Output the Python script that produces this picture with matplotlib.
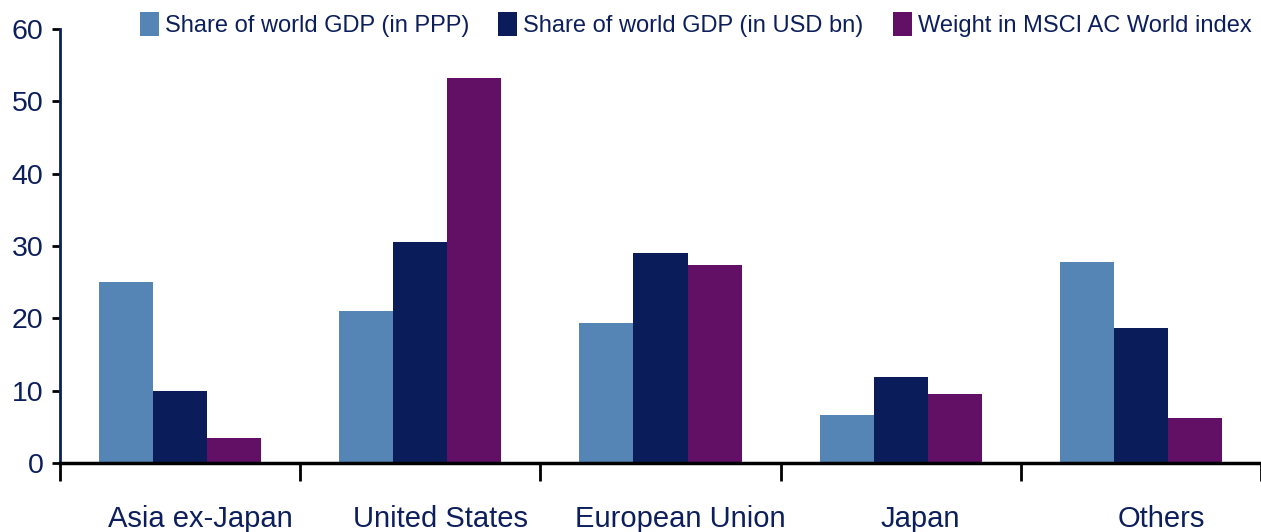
import numpy as np
import matplotlib.pyplot as plt
import matplotlib.transforms as mtransforms

plt.rcParams['font.family'] = ['Liberation Sans', 'DejaVu Sans']

categories = ['Asia ex-Japan', 'United States', 'European Union', 'Japan', 'Others']
gdp_ppp = [25.0, 21.0, 19.4, 6.6, 27.8]
gdp_usd = [9.9, 30.6, 29.0, 11.9, 18.7]
msci_weight = [3.5, 53.2, 27.4, 9.6, 6.2]
series_names = ['Share of world GDP (in PPP)', 'Share of world GDP (in USD bn)',
                'Weight in MSCI AC World index']
colors = ['#5585B5', '#0A1D5A', '#611066']
text_color = '#0C1F5C'

fig = plt.figure(figsize=(12.61, 5.32), dpi=100)
ax = fig.add_axes([0.0476, 0.1297, 0.9524, 0.8158])

x = np.arange(len(categories))
w = 0.225
for i, (vals, name, c) in enumerate(zip([gdp_ppp, gdp_usd, msci_weight], series_names, colors)):
    ax.bar(x + (i - 1) * w, vals, width=w, color=c, label=name)

ax.set_xlim(-0.5, len(categories) - 0.5)
ax.set_ylim(0, 60)
ax.set_yticks(range(0, 61, 10))
ax.tick_params(axis='y', labelsize=20.5, labelcolor=text_color, length=6, width=2, color='black', pad=6)

ax.set_xticks(np.arange(-0.5, len(categories), 1.0))
ax.set_xticklabels([])
ax.set_xticks(x, minor=True)
ax.set_xticklabels(categories, minor=True)
ax.tick_params(axis='x', which='major', length=13, width=2, color='black', direction='out')
ax.tick_params(axis='x', which='minor', length=0, pad=30, labelsize=21, labelcolor=text_color)

# labels in the original sit a little right of the group centres
shift = mtransforms.ScaledTranslation(20 / 100, 0, fig.dpi_scale_trans)
for lbl in ax.get_xticklabels(minor=True):
    lbl.set_transform(lbl.get_transform() + shift)

for s in ['top', 'right']:
    ax.spines[s].set_visible(False)
ax.spines['left'].set_color(text_color)
ax.spines['left'].set_linewidth(2)
ax.spines['bottom'].set_color('black')
ax.spines['bottom'].set_linewidth(2.5)

leg = fig.legend(loc='upper left', bbox_to_anchor=(0.094, 1.017), ncol=3, frameon=False,
                 fontsize=17, handlelength=0.8, handleheight=1.15, handletextpad=0.25,
                 columnspacing=1.25, labelcolor=text_color)

fig.savefig('out.png', dpi=100)
